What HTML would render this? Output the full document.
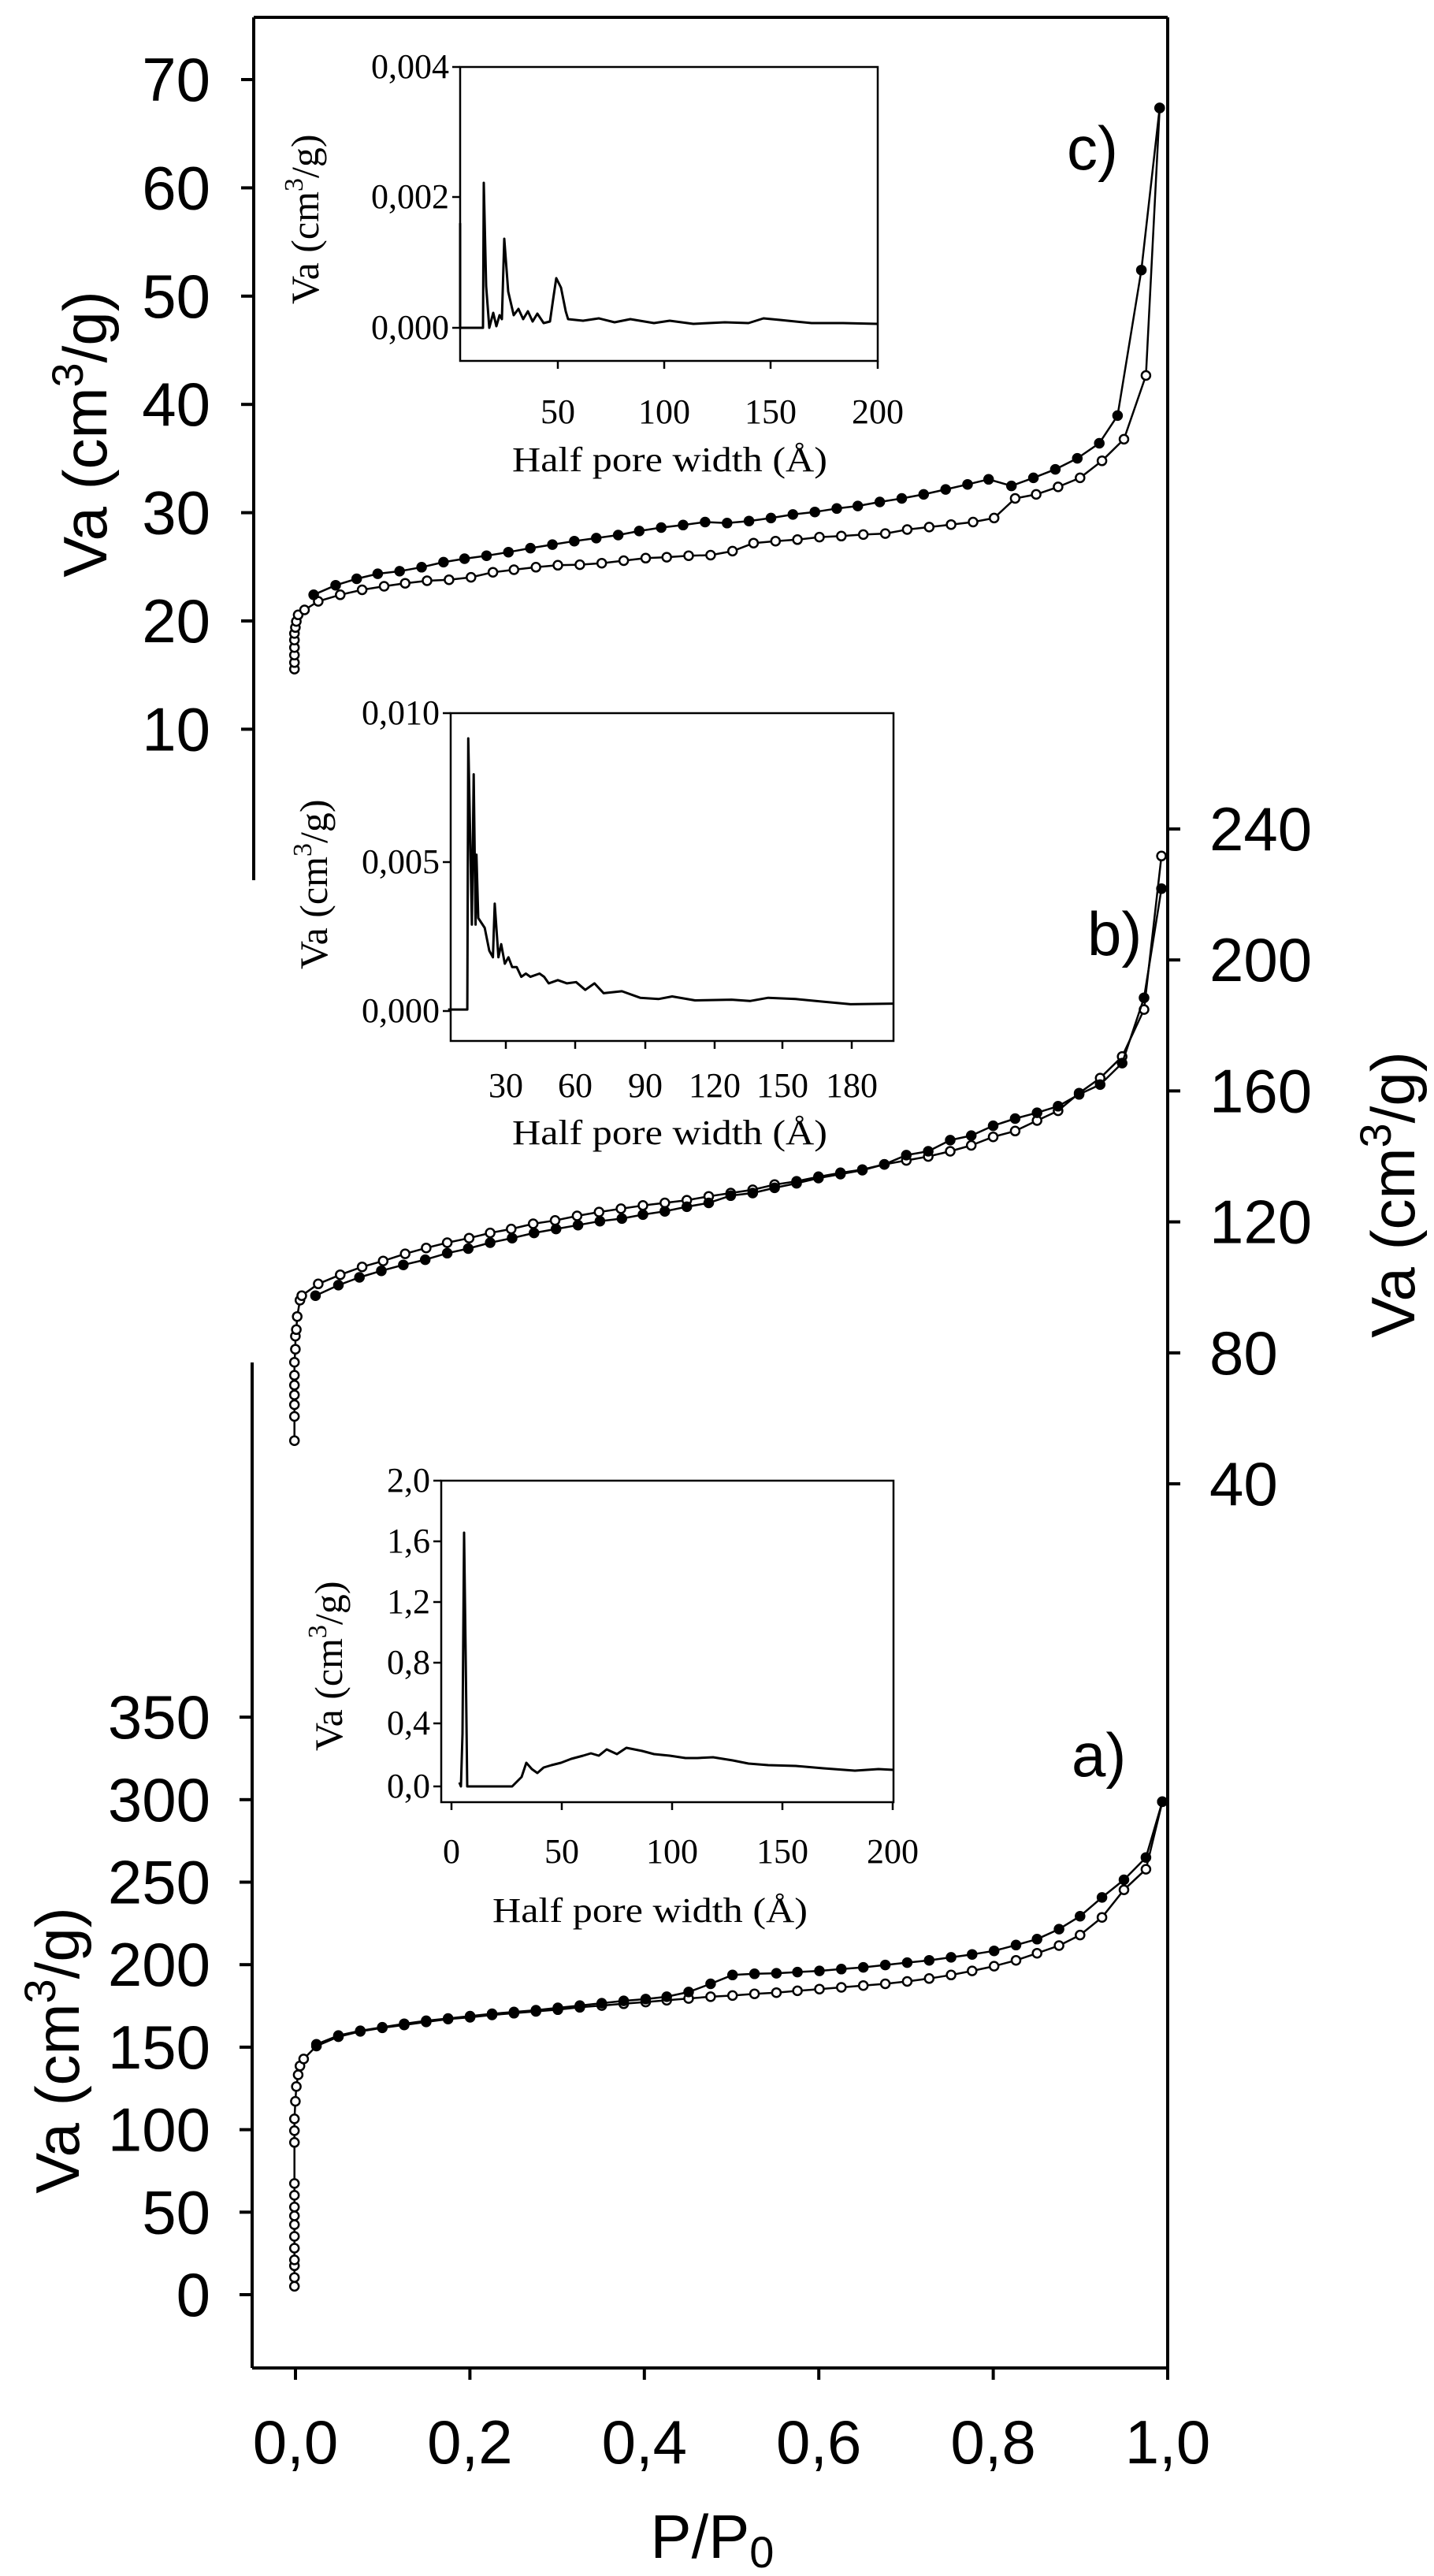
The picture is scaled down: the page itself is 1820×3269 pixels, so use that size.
<!DOCTYPE html>
<html><head><meta charset="utf-8">
<style>
html,body{margin:0;padding:0;background:#fff;}
svg{display:block;}
.big{font-family:"Liberation Sans",sans-serif;font-size:78px;fill:#000;}
.sm{font-family:"Liberation Serif",serif;font-size:44px;fill:#000;}
.yl{font-family:"Liberation Serif",serif;font-size:50px;fill:#000;}
</style></head>
<body>
<svg id="s" width="1820" height="3269" viewBox="0 0 1820 3269" xmlns="http://www.w3.org/2000/svg">
<g stroke="#000" stroke-width="4" fill="none">
<line x1="322" y1="22" x2="1482" y2="22"/>
<line x1="322" y1="22" x2="322" y2="1117"/>
<line x1="320" y1="1729" x2="320" y2="3005"/>
<line x1="1482" y1="22" x2="1482" y2="3005"/>
<line x1="320" y1="3005" x2="1482" y2="3005"/>
</g>
<g id="g"></g>
<text class="big" x="1354" y="215">c)</text>
<text class="big" x="1380" y="1212">b)</text>
<text class="big" x="1360" y="2254">a)</text>
<text class="big" x="904" y="3246" text-anchor="middle">P/P<tspan font-size="56" dy="12">0</tspan></text>
<text class="big" transform="translate(135,551) rotate(-90)" text-anchor="middle">Va (cm<tspan font-size="56" dy="-30">3</tspan><tspan dy="30">/g)</tspan></text>
<text class="big" transform="translate(100,2602) rotate(-90)" text-anchor="middle">Va (cm<tspan font-size="56" dy="-30">3</tspan><tspan dy="30">/g)</tspan></text>
<text class="big" transform="translate(1795,1516) rotate(-90)" text-anchor="middle">Va (cm<tspan font-size="56" dy="-30">3</tspan><tspan dy="30">/g)</tspan></text>
<text class="yl" transform="translate(404,386) rotate(-90)">Va (cm<tspan font-size="34" dy="-20">3</tspan><tspan dy="20">/g)</tspan></text>
<text class="yl" transform="translate(415,1230) rotate(-90)">Va (cm<tspan font-size="34" dy="-20">3</tspan><tspan dy="20">/g)</tspan></text>
<text class="yl" transform="translate(434,2222) rotate(-90)">Va (cm<tspan font-size="34" dy="-20">3</tspan><tspan dy="20">/g)</tspan></text>
<text class="sm" x="650" y="598" textLength="400" lengthAdjust="spacingAndGlyphs">Half pore width (Å)</text>
<text class="sm" x="650" y="1452" textLength="400" lengthAdjust="spacingAndGlyphs">Half pore width (Å)</text>
<text class="sm" x="625" y="2439" textLength="400" lengthAdjust="spacingAndGlyphs">Half pore width (Å)</text>
</svg>
<script>
var g=document.getElementById('g');var out='';
function L(x1,y1,x2,y2,w){out+='<line x1="'+x1+'" y1="'+y1+'" x2="'+x2+'" y2="'+y2+'" stroke="#000" stroke-width="'+(w||4)+'"/>';}
function T(x,y,t,cls,anc){out+='<text class="'+cls+'" x="'+x+'" y="'+y+'" text-anchor="'+(anc||'end')+'">'+t+'</text>';}
[70,60,50,40,30,20,10].forEach(function(v){var y=101+(70-v)*13.74;L(306,y,322,y);T(267,y+27,v,'big');});
[0,50,100,150,200,250,300,350].forEach(function(v){var y=2912-v*2.094;L(304,y,320,y);T(267,y+27,v,'big');});
[240,200,160,120,80,40].forEach(function(v){var y=1052+(240-v)*4.155;L(1482,y,1498,y);T(1535,y+27,v,'big','start');});
for(var i=0;i<=5;i++){var x=375+i*0.2*1107;L(x,3005,x,3020);T(x,3126,(i==5?'1,0':'0,'+(2*i)),'big','middle');}
function inset(l,t,r,b,yt,xt){out+='<rect x="'+l+'" y="'+t+'" width="'+(r-l)+'" height="'+(b-t)+'" fill="none" stroke="#000" stroke-width="2.5"/>';
 yt.forEach(function(a){L(l-10,a[0],l,a[0],2.5);T(l-14,a[0]+14,a[1],'sm');});
 xt.forEach(function(a){L(a[0],b,a[0],b+10,2.5);T(a[0],a[2],a[1],'sm','middle');});}
inset(584,85,1114,458,[[85,'0,004'],[250,'0,002'],[416,'0,000']],[[708,'50',537],[843,'100',537],[978,'150',537],[1114,'200',537]]);
inset(572,905,1134,1321,[[905,'0,010'],[1094,'0,005'],[1283,'0,000']],[[642,'30',1392],[730,'60',1392],[819,'90',1392],[907,'120',1392],[993,'150',1392],[1081,'180',1392]]);
inset(560,1879,1134,2287,[[1879,'2,0'],[1956,'1,6'],[2033,'1,2'],[2110,'0,8'],[2187,'0,4'],[2267,'0,0']],[[573,'0',2364],[713,'50',2364],[853,'100',2364],[993,'150',2364],[1133,'200',2364]]);
function poly(pts,w){out+='<polyline points="'+pts.map(function(p){return p[0].toFixed(1)+','+p[1].toFixed(1);}).join(' ')+'" fill="none" stroke="#000" stroke-width="'+(w||2.5)+'" stroke-linejoin="round"/>';}
function conv(a,sx,sy,oy){var r=[];for(var i=0;i<a.length;i+=2)r.push([a[i]*sx,a[i+1]*sy+oy]);return r;}
function series(pts,filled){poly(pts,2.5);pts.forEach(function(p){out+='<circle cx="'+p[0].toFixed(1)+'" cy="'+p[1].toFixed(1)+'" r="5.5" fill="'+(filled?'#000':'#fff')+'" stroke="#000" stroke-width="2.5"/>';});}
var SX=1.1607;
var cO=[322,1333,322,1320,322,1305,322,1290,322,1275,322,1262,323,1250,324,1238,326,1225,333,1215,348,1198,372,1185,396,1175,420,1168,443,1162,467,1157,491,1155,515,1150,539,1140,562,1135,586,1130,610,1126,634,1125,658,1122,682,1117,706,1112,729,1110,753,1107,777,1106,801,1098,824,1082,848,1078,872,1075,896,1070,920,1068,944,1065,968,1063,992,1055,1016,1050,1040,1045,1064,1040,1087,1032,1110,993,1133,985,1157,970,1181,952,1205,918,1229,875,1253,748,1268,215];
var cF=[343,1185,367,1166,390,1153,413,1143,437,1138,461,1130,485,1120,508,1113,532,1107,556,1100,580,1092,604,1085,628,1078,652,1072,676,1066,699,1058,723,1051,747,1046,771,1040,795,1042,819,1038,843,1032,867,1025,891,1020,915,1013,938,1008,962,1000,986,993,1010,985,1034,975,1058,965,1081,955,1106,968,1130,952,1154,935,1178,913,1202,883,1222,828,1248,538,1268,215];
series(conv(cO,SX,0.637,0),false);series(conv(cF,SX,0.637,0),true);
var bO=[322,1180,322,1143,322,1125,322,1110,322,1095,322,1080,322,1060,323,1040,323,1020,324,1010,325,990,328,965,330,958,348,940,372,926,396,914,419,905,443,894,466,885,489,877,513,870,536,862,559,856,583,848,607,843,631,836,655,830,679,825,703,820,727,816,751,812,775,806,799,801,823,796,847,788,871,783,895,776,919,770,943,765,967,757,991,751,1015,745,1039,737,1062,728,1086,715,1110,706,1134,690,1157,675,1180,648,1203,625,1227,592,1251,520,1270,285];
var bF=[345,958,370,942,393,930,417,920,441,911,465,903,489,893,512,886,536,877,560,870,584,862,608,856,632,850,656,844,680,840,703,834,727,829,751,822,775,816,799,805,823,801,847,793,871,786,895,778,919,772,943,766,967,757,991,743,1015,737,1039,720,1062,713,1086,698,1110,687,1134,678,1157,668,1180,650,1203,635,1227,602,1251,502,1270,335];
series(conv(bO,SX,0.829,850),false);series(conv(bF,SX,0.829,850),true);
var aO=[322,1075,322,1060,322,1040,322,1030,322,1010,322,990,322,970,322,955,322,940,322,920,322,900,322,830,322,810,322,790,323,760,324,735,326,715,328,700,332,688,346,666,370,650,394,641,418,635,442,630,466,625,490,620,514,617,538,613,562,610,586,607,610,604,634,600,658,597,682,594,706,591,729,588,753,585,777,582,801,580,825,577,849,575,872,572,896,569,920,566,944,563,968,560,992,556,1016,551,1040,545,1063,538,1087,530,1111,520,1134,508,1158,495,1181,477,1205,447,1229,400,1253,365,1271,250];
var aF=[346,663,370,648,394,640,418,634,442,628,466,623,490,619,514,615,538,611,562,608,586,605,610,601,634,597,658,593,682,589,706,586,729,582,753,574,777,560,801,545,825,543,849,542,872,540,896,538,920,535,944,532,968,528,992,524,1016,520,1040,515,1063,510,1087,504,1111,494,1134,484,1158,467,1181,445,1205,413,1229,383,1253,345,1271,250];
series(conv(aO,SX,0.7455,2100),false);series(conv(aF,SX,0.7455,2100),true);
poly([[584,416],[584,284],[584,416],[613,416],[614,232],[617,363],[621,416],[626,397],[630,414],[634,400],[637,405],[640,303],[645,370],[652,400],[658,392],[664,405],[670,395],[676,408],[682,398],[690,410],[698,408],[702,380],[706,353],[712,365],[718,395],[721,405],[740,407],[760,404],[780,409],[800,405],[830,410],[850,407],[880,411],[920,409],[950,410],[969,404],[990,406],[1030,410],[1070,410],[1114,411]],3);
var bI=[490,520,511,520,512,105,516,390,518,160,520,390,521,283,523,380,530,395,535,430,539,440,541,358,545,440,548,420,552,450,556,440,560,455,565,455,570,470,575,465,580,470,590,465,595,470,600,480,610,475,620,480,630,478,640,490,650,480,660,495,680,492,700,502,720,504,735,500,760,506,800,505,820,507,840,502,870,504,900,508,930,512,977,511];
poly(conv(bI,SX,0.829,850),3);
poly([[583,2262],[585,2267],[587,2200],[589,1945],[591,2100],[593,2267],[650,2267],[655,2262],[662,2255],[668,2237],[675,2245],[682,2250],[690,2243],[700,2240],[712,2237],[725,2232],[740,2228],[750,2225],[760,2228],[770,2220],[783,2226],[795,2218],[805,2220],[815,2222],[830,2226],[850,2228],[870,2231],[885,2231],[905,2230],[930,2234],[950,2238],[975,2240],[1010,2241],[1045,2244],[1085,2247],[1115,2245],[1134,2246]],3);
g.innerHTML=out;
</script>
</body></html>
